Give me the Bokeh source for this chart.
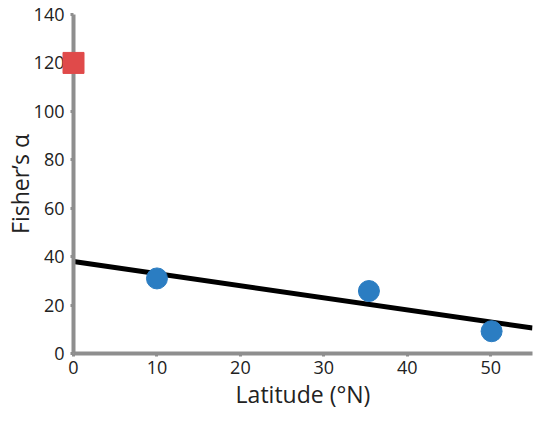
from bokeh.plotting import figure
from bokeh.models import Range1d, FixedTicker
from bokeh.embed import file_html
from bokeh.resources import INLINE

# data
sq_x = [0]
sq_y = [120]
pt_x = [10, 35.4, 50.1]
pt_y = [31, 25.8, 9.2]
fit_x = [0, 55]
fit_y = [38, 10.5]
x_ticks = [0, 10, 20, 30, 40, 50]
y_ticks = [0, 20, 40, 60, 80, 100, 120, 140]
x_title = "Latitude (°N)"
y_title = "Fisher’s α"

FONT = "Open Sans"
AX = "#8e8e8e"
TXT = "#222222"

p = figure(width=534, height=412, output_backend="svg", toolbar_location=None,
           x_range=Range1d(0, 55), y_range=Range1d(0, 140),
           min_border_left=60, min_border_right=2, min_border_top=14, min_border_bottom=55)
p.outline_line_color = None
p.xgrid.visible = False
p.ygrid.visible = False

p.line(fit_x, fit_y, line_color="black", line_width=5)
p.scatter(pt_x, pt_y, marker="circle", size=21, fill_color="#2B7DC2", line_color="#2B7DC2")
p.scatter(sq_x, sq_y, marker="square", size=21, fill_color="#E04A4A",
          line_color="#E04A4A", level="overlay")

for ax, ticks in ((p.xaxis[0], x_ticks), (p.yaxis[0], y_ticks)):
    ax.ticker = FixedTicker(ticks=ticks)
    ax.minor_tick_line_color = None
    ax.axis_line_color = AX
    ax.axis_line_width = 4
    ax.major_tick_line_color = AX
    ax.major_tick_line_width = 3
    ax.major_tick_out = 3
    ax.major_tick_in = 0
    ax.major_label_text_font = FONT
    ax.major_label_text_font_size = "18px"
    ax.major_label_text_color = TXT
    ax.axis_label_text_font = FONT
    ax.axis_label_text_font_size = "23px"
    ax.axis_label_text_font_style = "normal"
    ax.axis_label_text_color = TXT

p.xaxis.axis_label = x_title
p.yaxis.axis_label = y_title
p.xaxis.major_label_standoff = 4
p.yaxis.major_label_standoff = 6
p.xaxis.axis_label_standoff = 1
p.yaxis.axis_label_standoff = -5

open("out.html", "w").write(file_html(p, INLINE))
